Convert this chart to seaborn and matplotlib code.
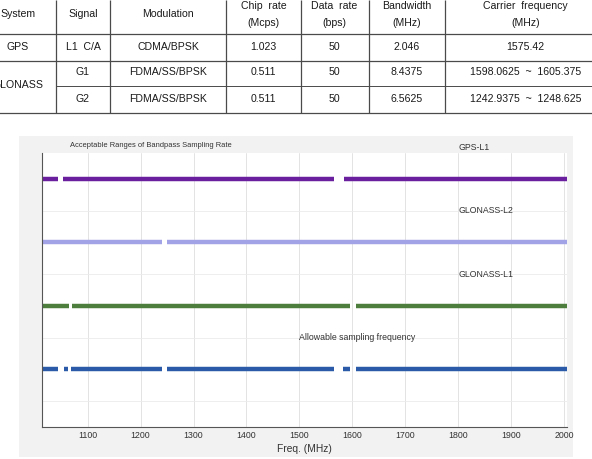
import pandas as pd
import seaborn as sns
import matplotlib.pyplot as plt
from matplotlib.patches import Rectangle

# ---- table at the top ----
tbl_header = [['System'], ['Signal'], ['Modulation'], ['Chip  rate', '(Mcps)'],
              ['Data  rate', '(bps)'], ['Bandwidth', '(MHz)'], ['Carrier  frequency', '(MHz)']]
tbl_system = ['GPS', 'GLONASS']
tbl_signal = ['L1  C/A', 'G1', 'G2']
tbl_modulation = ['CDMA/BPSK', 'FDMA/SS/BPSK', 'FDMA/SS/BPSK']
tbl_chip_rate = ['1.023', '0.511', '0.511']
tbl_data_rate = ['50', '50', '50']
tbl_bandwidth = ['2.046', '8.4375', '6.5625']
tbl_carrier = ['1575.42', '1598.0625  ~  1605.375', '1242.9375  ~  1248.625']

# ---- acceptable bandpass sampling ranges (MHz) ----
series_names = ['GPS-L1', 'GLONASS-L2', 'GLONASS-L1', 'Allowable sampling frequency']
gps_l1 = [(1014, 1044), (1054, 1565), (1584, 2005)]
glonass_l2 = [(1014, 1240), (1250, 2005)]
glonass_l1 = [(1014, 1065), (1070, 1596), (1607, 2005)]
allowable = [(1014, 1044), (1055, 1064), (1069, 1240), (1250, 1565), (1583, 1596), (1607, 2005)]
x_ticks = [1100, 1200, 1300, 1400, 1500, 1600, 1700, 1800, 1900, 2000]

sns.set_style('white')
plt.rcParams['font.family'] = ['Liberation Sans', 'DejaVu Sans']

fig = plt.figure(figsize=(5.92, 4.59), dpi=100)

# background axes in pixel units for the table and the grey panel
tab = fig.add_axes([0, 0, 1, 1])
tab.set_xlim(0, 592)
tab.set_ylim(459, 0)
tab.axis('off')
tab.add_patch(Rectangle((19, 136), 554, 321, color='#f2f2f2', lw=0))

col_edges = [55.6, 110.4, 225.7, 300.6, 369.4, 445.4]
col_mid = [18, 83, 168, 263.5, 334.6, 406.4, 525.5]
row_mid = [46.5, 72, 99]
txt = dict(fontsize=7.6, ha='center', va='center', color='#1a1a1a')

for cx, hd in zip(col_mid, tbl_header):
    if len(hd) == 1:
        tab.text(cx, 14, hd[0], **txt)
    else:
        tab.text(cx, 6, hd[0], **txt)
        tab.text(cx, 22.5, hd[1], **txt)

tab.text(col_mid[0], row_mid[0], tbl_system[0], **txt)
tab.text(col_mid[0], 85.5, tbl_system[1], **txt)
cols = [tbl_signal, tbl_modulation, tbl_chip_rate, tbl_data_rate, tbl_bandwidth, tbl_carrier]
for cx, vals in zip(col_mid[1:], cols):
    for ry, v in zip(row_mid, vals):
        tab.text(cx, ry, v, **txt)

lc = '#4a4a4a'
tab.hlines([34, 60.5, 112.7], -10, 600, color=lc, lw=0.9)
tab.hlines(86.2, col_edges[0], 600, color=lc, lw=0.7)
tab.vlines(col_edges, 0, 112.7, color=lc, lw=0.9)

# ---- chart ----
rows = []
seg = 0
for lvl, name, spans in zip([4, 3, 2, 1], series_names, [gps_l1, glonass_l2, glonass_l1, allowable]):
    for a, b in spans:
        rows.append((a, lvl, name, seg))
        rows.append((b, lvl, name, seg))
        seg += 1
df = pd.DataFrame(rows, columns=['freq', 'level', 'series', 'seg'])

palette = {'GPS-L1': '#6a1f9e', 'GLONASS-L2': '#a2a2e6',
           'GLONASS-L1': '#4d7e3e', 'Allowable sampling frequency': '#2b5aa8'}

ax = fig.add_axes([42 / 592, 32 / 459, 525 / 592, 274 / 459])
ax.set_facecolor('white')
sns.lineplot(data=df, x='freq', y='level', hue='series', units='seg', estimator=None,
             palette=palette, lw=3.2, solid_capstyle='butt', legend=False, sort=False, ax=ax)

ax.set_xlim(1014, 2005)
ax.set_ylim(0.09, 4.41)
ax.set_xticks(x_ticks)
ax.set_yticks([0.5, 1.5, 2.5, 3.5])
ax.set_yticklabels([])
ax.set_ylabel('')
ax.set_axisbelow(True)
ax.grid(axis='x', color='#dedede', lw=0.6)
ax.grid(axis='y', color='#ebebeb', lw=0.6)
ax.tick_params(direction='in', length=3.5, width=0.8, color='#444444',
               labelsize=6.3, labelcolor='#333333', pad=3)
ax.spines['top'].set_visible(False)
ax.spines['right'].set_visible(False)
for s in ['left', 'bottom']:
    ax.spines[s].set_color('#555555')
    ax.spines[s].set_linewidth(0.8)
ax.set_xlabel('Freq. (MHz)', fontsize=7.4, color='#333333', labelpad=2.5)

lab = dict(fontsize=6.3, color='#333333', va='center', clip_on=False)
ax.text(1801, 4.5, series_names[0], **lab)
ax.text(1801, 3.5, series_names[1], **lab)
ax.text(1801, 2.5, series_names[2], **lab)
ax.text(1500, 1.5, series_names[3], **lab)
ax.text(1067, 4.53, 'Acceptable Ranges of Bandpass Sampling Rate', fontsize=5.4,
        color='#333333', va='center', clip_on=False)

fig.savefig('out.png', dpi=100)
